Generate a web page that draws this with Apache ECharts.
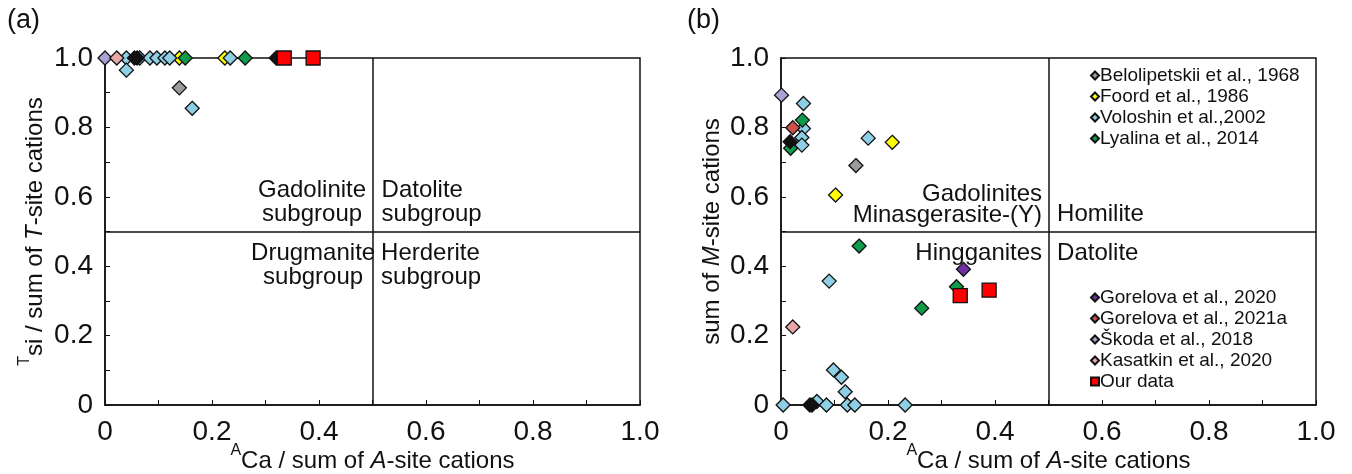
<!DOCTYPE html>
<html>
<head>
<meta charset="utf-8">
<script src="https://cdn.jsdelivr.net/npm/echarts@6/dist/echarts.min.js"></script>
<style>
  html, body { margin: 0; padding: 0; background: #fff; }
  #chart { width: 1352px; height: 474px; }
</style>
</head>
<body>
<div id="chart"></div>
<script>
// data: [ACa / sum A, T-site (a) or M-site (b)]
var belolipetskiiA = [[0.139, 0.914]];
var belolipetskiiB = [[0.140, 0.690]];
var foordA = [[0.139, 1.0], [0.224, 1.0]];
var foordB = [[0.208, 0.757], [0.102, 0.605]];
var voloshinA = [[0.040, 1.0], [0.040, 0.965], [0.065, 1.0], [0.084, 1.0], [0.097, 1.0],
  [0.112, 1.0], [0.121, 1.0], [0.163, 0.855], [0.234, 1.0]];
var voloshinB = [[0.042, 0.869], [0.042, 0.797], [0.039, 0.771], [0.039, 0.749], [0.163, 0.769],
  [0.090, 0.357], [0.004, 0.0], [0.067, 0.010], [0.085, 0.0], [0.098, 0.101], [0.113, 0.080],
  [0.120, 0.038], [0.124, 0.0], [0.138, 0.0], [0.232, 0.0]];
var lyalinaA = [[0.150, 1.0], [0.262, 1.0]];
var lyalinaB = [[0.040, 0.821], [0.018, 0.740], [0.146, 0.458], [0.328, 0.341], [0.263, 0.279]];
var gorelova20A = [];
var gorelova20B = [[0.341, 0.391]];
var gorelova21A = [];
var gorelova21B = [[0.022, 0.799]];
var skodaA = [[0.0, 1.0]];
var skodaB = [[0.001, 0.893]];
var kasatkinA = [[0.022, 1.0]];
var kasatkinB = [[0.022, 0.225]];
var otherA = [[0.055, 1.0], [0.060, 1.0], [0.320, 1.0]];
var otherB = [[0.017, 0.759], [0.054, 0.0], [0.058, 0.0]];
var ourA = [[0.335, 1.0], [0.389, 1.0]];
var ourB = [[0.335, 0.315], [0.389, 0.331]];

var divider = 0.5;
var labelsA = [[0.387, 0.585, 'Gadolinite\nsubgroup', 'center'], [0.517, 0.585, 'Datolite\nsubgroup', 'left'],
  [0.389, 0.403, 'Drugmanite\nsubgroup', 'center'], [0.516, 0.403, 'Herderite\nsubgroup', 'left']];
var labelsB = [[0.488, 0.578, 'Gadolinites\nMinasgerasite-(Y)', 'right'], [0.516, 0.548, 'Homilite', 'left'],
  [0.488, 0.436, 'Hingganites', 'right'], [0.516, 0.436, 'Datolite', 'left']];

var studies = [
  { name: 'Belolipetskii et al., 1968', color: '#9b9b9b', a: belolipetskiiA, b: belolipetskiiB },
  { name: 'Foord et al., 1986', color: '#ffff00', a: foordA, b: foordB },
  { name: 'Voloshin et al.,2002', color: '#8ecfe6', a: voloshinA, b: voloshinB },
  { name: 'Lyalina et al., 2014', color: '#0f9c4a', a: lyalinaA, b: lyalinaB },
  { name: 'Gorelova et al., 2020', color: '#7030a0', a: gorelova20A, b: gorelova20B },
  { name: 'Gorelova et al., 2021a', color: '#d0504a', a: gorelova21A, b: gorelova21B },
  { name: 'Škoda et al., 2018', color: '#a9a3d4', a: skodaA, b: skodaB },
  { name: 'Kasatkin et al., 2020', color: '#e8a8a8', a: kasatkinA, b: kasatkinB },
  { name: 'other', color: '#111111', a: otherA, b: otherB },
  { name: 'Our data', color: '#ff0000', a: ourA, b: ourB, symbol: 'rect', size: 14 }
];

var FONT = '"Liberation Sans", Arial, sans-serif';
var INK = '#111';
var chart = echarts.init(document.getElementById('chart'));

var nameRich = {
  sup: { fontSize: 16, fontFamily: FONT, color: INK, padding: [0, 0, 20, 0] },
  n: { fontSize: 24, fontFamily: FONT, color: INK },
  it: { fontSize: 24, fontFamily: FONT, color: INK, fontStyle: 'italic' }
};

function tickFmt(v) { return v === 0 ? '0' : v.toFixed(1); }

function xAxis(idx) {
  return {
    type: 'value', gridIndex: idx, min: 0, max: 1, interval: 0.2,
    axisLine: { lineStyle: { color: INK, width: 1.5 } },
    axisTick: { inside: true, length: 5, lineStyle: { color: INK } },
    minorTick: { show: true, splitNumber: 2, length: 5, lineStyle: { color: INK } },
    splitLine: { show: false },
    axisLabel: { fontSize: 28, color: INK, fontFamily: FONT, margin: 13, formatter: tickFmt },
    name: '{sup|A}{n|Ca / sum of }{it|A}{n|-site cations}',
    nameLocation: 'middle', nameGap: 38, nameMoveOverlap: false,
    nameTextStyle: { rich: nameRich }
  };
}

function yAxis(idx, name, gap) {
  return {
    type: 'value', gridIndex: idx, min: 0, max: 1, interval: 0.2,
    axisLine: { lineStyle: { color: INK, width: 1.5 } },
    axisTick: { inside: true, length: 5, lineStyle: { color: INK } },
    minorTick: { show: true, splitNumber: 2, length: 5, lineStyle: { color: INK } },
    splitLine: { show: false },
    axisLabel: { fontSize: 28, color: INK, fontFamily: FONT, margin: 12, formatter: tickFmt },
    name: name, nameLocation: 'middle', nameGap: gap, nameRotate: 90, nameMoveOverlap: false,
    nameTextStyle: { rich: nameRich }
  };
}

var series = [];
studies.forEach(function (s) {
  [s.a, s.b].forEach(function (pts, i) {
    series.push({
      name: s.name, type: 'scatter', xAxisIndex: i, yAxisIndex: i,
      symbol: s.symbol || 'diamond', symbolSize: s.size || 14, clip: false,
      itemStyle: { color: s.color, borderColor: '#111', borderWidth: 1.3, opacity: 1 },
      data: pts
    });
  });
});

// dividing lines and field names
[labelsA, labelsB].forEach(function (labs, i) {
  series.push({
    type: 'scatter', xAxisIndex: i, yAxisIndex: i, symbolSize: 0, silent: true,
    itemStyle: { opacity: 1 },
    data: labs.map(function (l) {
      return { value: [l[0], l[1]], name: l[2],
        label: { show: true, position: 'inside', align: l[3], formatter: l[2], opacity: 1,
          color: INK, fontSize: 24, lineHeight: i ? 21 : 24, fontFamily: FONT,
          textBorderWidth: 0 } };
    }),
    markLine: {
      silent: true, symbol: 'none', label: { show: false },
      lineStyle: { color: INK, width: 1.5, type: 'solid', opacity: 1 },
      data: [{ xAxis: divider }, { yAxis: divider }]
    }
  });
});

var legendText = { fontSize: 19, lineHeight: 21, color: INK, fontFamily: FONT, padding: [0, 0, 0, -4] };

chart.setOption({
  backgroundColor: '#fff',
  animation: false,
  grid: [
    { left: 105, top: 58, width: 535, height: 347, show: true, borderColor: INK, borderWidth: 1.5,
      outerBoundsMode: 'none', containLabel: false },
    { left: 781, top: 58, width: 535, height: 347, show: true, borderColor: INK, borderWidth: 1.5,
      outerBoundsMode: 'none', containLabel: false }
  ],
  xAxis: [xAxis(0), xAxis(1)],
  yAxis: [
    yAxis(0, '{sup|T}{n|si / sum of }{it|T}{n|-site cations}', 52),
    yAxis(1, '{n|sum of }{it|M}{n|-site cations}', 57)
  ],
  legend: [
    { left: 1085, top: 60, orient: 'vertical', itemWidth: 8, itemHeight: 8, itemGap: 0,
      textStyle: legendText,
      data: studies.slice(0, 4).map(function (s) { return s.name; }) },
    { left: 1085, top: 282, orient: 'vertical', itemWidth: 8, itemHeight: 8, itemGap: 0,
      textStyle: legendText,
      data: ['Gorelova et al., 2020', 'Gorelova et al., 2021a', 'Škoda et al., 2018',
        'Kasatkin et al., 2020', 'Our data'] }
  ],
  graphic: [
    { type: 'text', left: 7, top: 7, style: { text: '(a)', fontSize: 27, fill: INK, fontFamily: FONT } },
    { type: 'text', left: 687, top: 7, style: { text: '(b)', fontSize: 27, fill: INK, fontFamily: FONT } }
  ],
  series: series
});
</script>
</body>
</html>
